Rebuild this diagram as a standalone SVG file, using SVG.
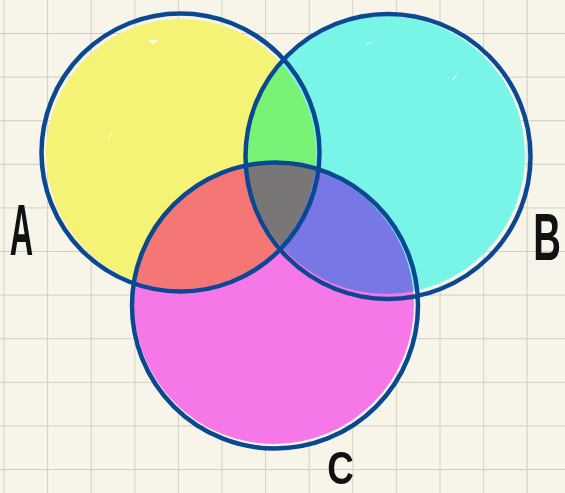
<svg xmlns="http://www.w3.org/2000/svg" width="565" height="493" viewBox="0 0 565 493">
<style>
.fill{mix-blend-mode:darken}
.ring{fill:none;stroke:#0b4892;stroke-width:4.5}
.lbl{font-family:"Liberation Sans",Arial,sans-serif;font-weight:bold;fill:#111;text-anchor:middle}
.hl{fill:#ffffff}
</style>
<defs>
<pattern id="grid" x="3.5" y="33" width="43.6" height="43.6" patternUnits="userSpaceOnUse">
<path d="M0 0V43.6M0 0H43.6" fill="none" stroke="#d2cdbe" stroke-width="1.8"/>
</pattern>
</defs>
<rect width="565" height="493" fill="#f7f4e9"/>
<rect width="565" height="493" fill="url(#grid)"/>
<g id="fills" style="isolation:isolate">
<circle class="fill" cx="181" cy="154" r="135" fill="#f5f375"/>
<circle class="fill" cx="386" cy="155" r="139" fill="#78f5e6"/>
<circle class="fill" cx="274" cy="304" r="140" fill="#f577e8"/>
</g>
<g id="A">
<circle class="ring" cx="180.5" cy="152.5" r="139"/>
<text class="lbl" transform="translate(21.5,255) scale(0.45,1)" font-size="72">A</text>
</g>
<g id="B">
<circle class="ring" cx="388" cy="156.5" r="142.5"/>
<text class="lbl" transform="translate(547,260) scale(0.58,1)" font-size="66">B</text>
</g>
<g id="C">
<circle class="ring" cx="275" cy="305.5" r="143"/>
<text class="lbl" transform="translate(340.5,484) scale(0.8,1)" font-size="46">C</text>
</g>
<g id="connectors"/>
<g id="highlights">
<path class="hl" d="M148 40l10 0l-5 4z"/>
<path class="hl" d="M108 138l5-6l-4 7z"/>
<path class="hl" d="M366 43l7-1l-6 2z"/>
<path class="hl" d="M452 80l6-7l-5 8z"/>
</g>
</svg>
